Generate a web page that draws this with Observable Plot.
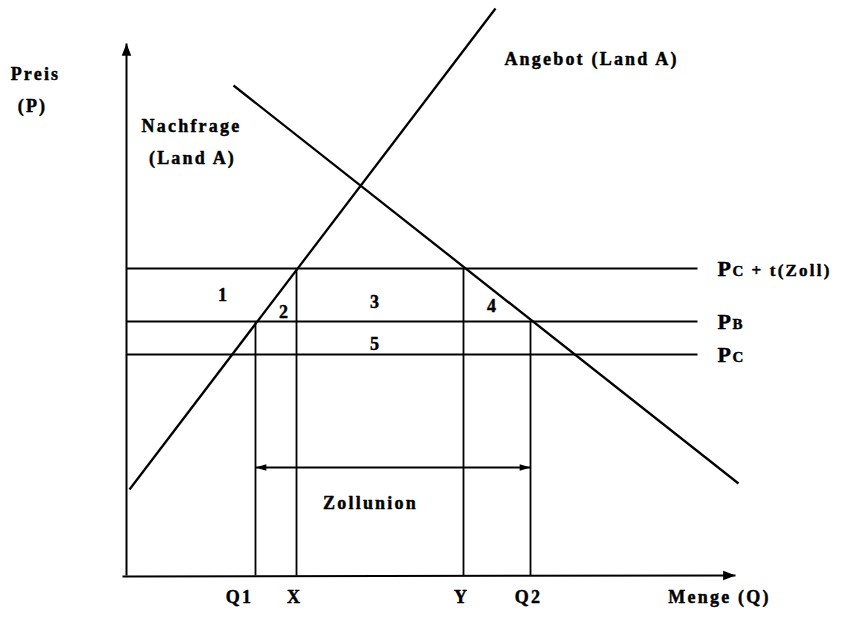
<!DOCTYPE html>
<html><head><meta charset="utf-8">
<script src="https://cdn.jsdelivr.net/npm/d3@7"></script>
<script src="https://cdn.jsdelivr.net/npm/@observablehq/plot@0.6"></script>
<style>
body{margin:0;background:#fff}
svg{display:block}
svg text{letter-spacing:2.2px}
</style>
</head><body><div id="chart"></div>
<script>
// ---- data (arbitrary units: Q = quantity, P = price) ----
const quantityNames = ["Q1", "X", "Y", "Q2"];
const quantityValues = [12.9, 17.0, 33.7, 40.4];
const quantityTop = [25.4, 30.7, 30.7, 25.4];

const priceMain = ["P", "P", "P"];
const priceSub = ["C", "B", "C"];
const priceRest = ["+ t(Zoll)", "", ""];
const priceValues = [30.7, 25.4, 22.1];
const priceLineEnd = 57.1;

const supplyQ = [0.3, 36.9];
const supplyP = [8.6, 56.7];
const demandQ = [10.7, 61.2];
const demandP = [49.0, 9.2];

const areaNames = ["1", "2", "3", "4", "5"];
const areaQ = [9.7, 15.8, 24.9, 36.6, 24.9];
const areaP = [28.0, 26.3, 27.3, 26.9, 23.1];

const axisTopP = 53.2;
const axisRightQ = 60.9;

const unionQ = [12.9, 40.4];
const unionP = 10.8;

const curveLabels = ["Nachfrage", "(Land A)", "Angebot (Land A)", "Zollunion"];
const curveLabelQ = [6.5, 6.6, 46.5, 24.4];
const curveLabelP = [44.9, 41.7, 51.6, 7.2];

const axisTitles = ["Preis", "(P)", "Menge (Q)"];
const axisTitleQ = [-9.1, -9.4, 59.3];
const axisTitleP = [50.1, 46.9, -2.2];

// ---- tables built from the arrays ----
const hLines = priceValues.map(p => ({x1: 0, y1: p, x2: priceLineEnd, y2: p}));
const vLines = quantityValues.map((q, i) => ({x1: q, y1: 0, x2: q, y2: quantityTop[i]}));
const curves = [
  {x1: supplyQ[0], y1: supplyP[0], x2: supplyQ[1], y2: supplyP[1]},
  {x1: demandQ[0], y1: demandP[0], x2: demandQ[1], y2: demandP[1]}
];
const axesLines = [
  {x1: 0, y1: 0, x2: 0, y2: axisTopP},
  {x1: -0.4, y1: -0.1, x2: axisRightQ, y2: 0}
];
const unionLine = [{x1: unionQ[0], y1: unionP, x2: unionQ[1], y2: unionP}];

const tri = (dx, dy, L, W) => ({
  draw(ctx, size) {
    const r = Math.sqrt(size / Math.PI);
    const px = -dy, py = dx;
    ctx.moveTo(0, 0);
    ctx.lineTo(-dx * L * r + px * W * r / 2, -dy * L * r + py * W * r / 2);
    ctx.lineTo(-dx * L * r - px * W * r / 2, -dy * L * r - py * W * r / 2);
    ctx.closePath();
  }
});
const headUp = tri(0, -1, 1.3, 1.0);
const headRight = tri(1, 0, 1.3, 1.0);
const smallRight = tri(1, 0, 1.2, 0.7);
const smallLeft = tri(-1, 0, 1.2, 0.7);

const font = {fontFamily: "Liberation Serif, Times New Roman, serif", fontWeight: "bold", fill: "black",
  stroke: "black", strokeWidth: 0.45};

const chart = Plot.plot({
  width: 845,
  height: 619,
  margin: 0,
  x: {domain: [-12.6, 71.9], range: [0, 845], axis: null},
  y: {domain: [-4.4, 57.5], range: [619, 0], axis: null},
  marks: [
    Plot.link(hLines, {x1: "x1", y1: "y1", x2: "x2", y2: "y2", stroke: "black", strokeWidth: 1.8}),
    Plot.link(vLines, {x1: "x1", y1: "y1", x2: "x2", y2: "y2", stroke: "black", strokeWidth: 1.8}),
    Plot.link(curves, {x1: "x1", y1: "y1", x2: "x2", y2: "y2", stroke: "black", strokeWidth: 2.3}),
    Plot.link(axesLines, {x1: "x1", y1: "y1", x2: "x2", y2: "y2", stroke: "black", strokeWidth: 2}),
    Plot.link(unionLine, {x1: "x1", y1: "y1", x2: "x2", y2: "y2", stroke: "black", strokeWidth: 1.8}),
    Plot.dot([{x: 0, y: axisTopP}], {x: "x", y: "y", symbol: headUp, r: 9.5, fill: "black", stroke: "none"}),
    Plot.dot([{x: axisRightQ, y: 0}], {x: "x", y: "y", symbol: headRight, r: 9.5, fill: "black", stroke: "none"}),
    Plot.dot([{x: unionQ[1], y: unionP}], {x: "x", y: "y", symbol: smallRight, r: 9, fill: "black", stroke: "none"}),
    Plot.dot([{x: unionQ[0], y: unionP}], {x: "x", y: "y", symbol: smallLeft, r: 9, fill: "black", stroke: "none"}),
    // area numbers
    Plot.text(areaNames, {x: (d, i) => areaQ[i], y: (d, i) => areaP[i], text: d => d, fontSize: 18, ...font}),
    // curve labels
    Plot.text(curveLabels, {x: (d, i) => curveLabelQ[i], y: (d, i) => curveLabelP[i], text: d => d, fontSize: 18, ...font}),
    // axis titles
    Plot.text(axisTitles, {x: (d, i) => axisTitleQ[i], y: (d, i) => axisTitleP[i], text: d => d, fontSize: 18, ...font}),
    // quantity labels under axis
    Plot.text(quantityNames, {x: (d, i) => quantityValues[i], y: -2.2, text: d => d, fontSize: 18, dx: -2, ...font,
      filter: (d, i) => i > 0}),
    Plot.text(quantityNames, {x: (d, i) => quantityValues[i], y: -2.2, text: d => d, fontSize: 18, dx: -16, ...font,
      filter: (d, i) => i === 0}),
    // price labels at right
    Plot.text(priceMain, {x: priceLineEnd, y: (d, i) => priceValues[i], text: d => d, fontSize: 22, dx: 20, dy: 7,
      textAnchor: "start", lineAnchor: "bottom", ...font}),
    Plot.text(priceSub, {x: priceLineEnd, y: (d, i) => priceValues[i], text: d => d, fontSize: 15, dx: 35, dy: 7,
      textAnchor: "start", lineAnchor: "bottom", ...font}),
    Plot.text(priceRest, {x: priceLineEnd, y: (d, i) => priceValues[i], text: d => d, fontSize: 17, dx: 54, dy: 7,
      textAnchor: "start", lineAnchor: "bottom", ...font})
  ]
});
document.getElementById("chart").append(chart);
</script>
</body></html>
